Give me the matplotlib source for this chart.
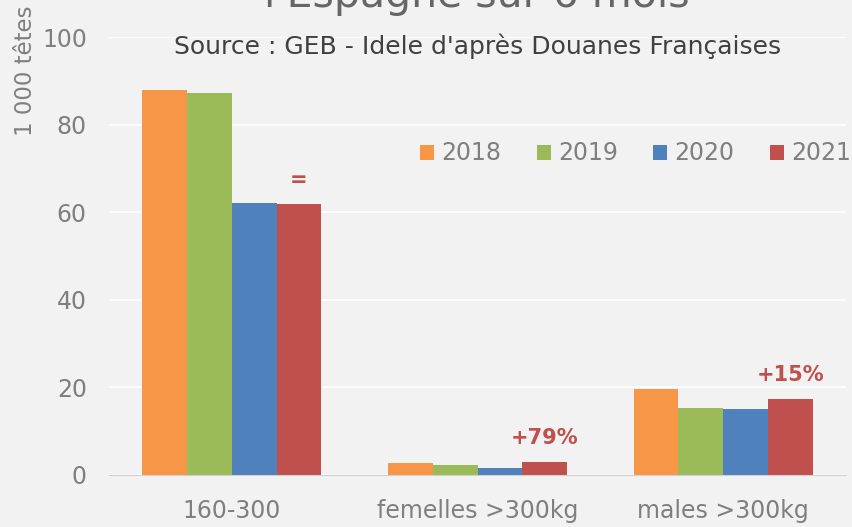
import matplotlib
matplotlib.use('Agg')
import matplotlib.pyplot as plt
import numpy as np

# data (1 000 têtes)
categories = ['160-300', 'femelles >300kg', 'males >300kg']
years = ['2018', '2019', '2020', '2021']
v2018 = [87.9, 2.8, 19.6]
v2019 = [87.2, 2.3, 15.4]
v2020 = [62.1, 1.5, 15.1]
v2021 = [61.9, 3.0, 17.4]
evolution = ['=', '+79%', '+15%']

colors = ['#f79646', '#9bbb59', '#4f81bd', '#c0504d']
bg = '#f2f2f2'
plt.rcParams['font.family'] = ['DejaVu Sans']

fig = plt.figure(figsize=(8.52, 5.27), dpi=100, facecolor=bg)
ax = fig.add_axes([0.128, 0.0987, 0.865, 0.831], facecolor=bg)

x = np.arange(len(categories))
width = 0.182
series = [v2018, v2019, v2020, v2021]
for i, (vals, year) in enumerate(zip(series, years)):
    ax.bar(x + (i - 1.5) * width, vals, width, color=colors[i], label=year,
           zorder=3, linewidth=0)

# evolution labels above 2021 bars
for xi, val, txt in zip(x, v2021, evolution):
    ax.annotate(txt, (xi + 1.5 * width, val), xytext=(0, 10), textcoords='offset points',
                ha='center', va='bottom', color='#c0504d', fontsize=15,
                fontweight='bold', zorder=4)

ax.set_xlim(-0.5, 2.5)
ax.set_ylim(0, 100)
ax.set_yticks(range(0, 101, 20))
ax.set_xticks(x)
ax.set_xticklabels(categories)
ax.tick_params(axis='both', length=0, colors='#7f7f7f', labelsize=17)
ax.tick_params(axis='y', pad=16)
ax.tick_params(axis='x', pad=17)
ax.yaxis.grid(True, color='white', linewidth=1.2, zorder=0)
for s in ['top', 'right', 'left']:
    ax.spines[s].set_visible(False)
ax.spines['bottom'].set_color('#d0d0d0')
ax.spines['bottom'].set_zorder(4)

ax.legend(loc='upper left', bbox_to_anchor=(0.468, 0.772), bbox_transform=fig.transFigure,
          ncol=4, frameon=False, fontsize=17, labelcolor='#7f7f7f',
          handlelength=0.6, handleheight=0.6, handletextpad=0.3, columnspacing=1.5)

fig.text(0.03, 0.99, '1 000 têtes', rotation=90, ha='center', va='top',
         color='#7f7f7f', fontsize=16.5)
# title line is partly outside the picture, as in the reference
fig.text(0.56, 0.987, "l'Espagne sur 6 mois", ha='center', va='baseline',
         color='#666666', fontsize=29.5)
fig.text(0.56, 0.912, "Source : GEB - Idele d'après Douanes Françaises", ha='center',
         va='center', color='#404040', fontsize=18)

fig.savefig('out.png', dpi=100, facecolor=bg)
